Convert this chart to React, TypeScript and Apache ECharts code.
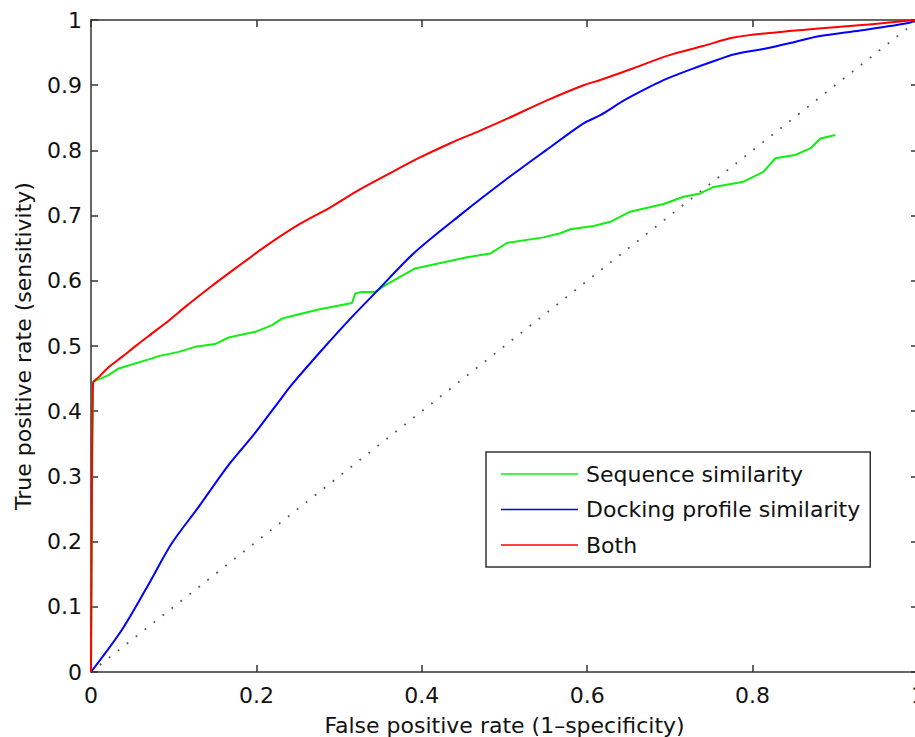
import React, { useEffect, useRef } from "react";
import * as echarts from "echarts";

const seriesNames = ["Sequence similarity", "Docking profile similarity", "Both"];

const seqFpr = [0, 0.001, 0.0024, 0.0213, 0.0334, 0.0738, 0.0817, 0.106, 0.126, 0.15, 0.1664, 0.1987, 0.219, 0.231, 0.243, 0.275, 0.3156, 0.3196, 0.3277, 0.3438, 0.356, 0.392, 0.4547, 0.483, 0.503, 0.547, 0.5675, 0.5796, 0.6077, 0.628, 0.652, 0.6924, 0.7166, 0.7367, 0.753, 0.789, 0.813, 0.8275, 0.8516, 0.8698, 0.882, 0.9];
const seqTpr = [0, 0.25, 0.445, 0.4553, 0.4656, 0.481, 0.4845, 0.491, 0.4987, 0.503, 0.513, 0.5217, 0.532, 0.542, 0.546, 0.556, 0.566, 0.5806, 0.583, 0.583, 0.5934, 0.619, 0.636, 0.642, 0.658, 0.6666, 0.673, 0.679, 0.684, 0.6905, 0.706, 0.7177, 0.729, 0.734, 0.744, 0.752, 0.767, 0.788, 0.793, 0.803, 0.8183, 0.8235];

const dockFpr = [0, 0.037, 0.069, 0.0975, 0.13, 0.166, 0.198, 0.2285, 0.243, 0.28, 0.3156, 0.3478, 0.39, 0.4486, 0.501, 0.55, 0.5956, 0.6158, 0.645, 0.676, 0.6965, 0.727, 0.757, 0.777, 0.8174, 0.85, 0.88, 0.93, 0.9867, 1];
const dockTpr = [0, 0.064, 0.133, 0.197, 0.253, 0.317, 0.366, 0.417, 0.441, 0.495, 0.5447, 0.5868, 0.642, 0.703, 0.7545, 0.8, 0.8415, 0.854, 0.877, 0.8977, 0.91, 0.925, 0.9386, 0.947, 0.9566, 0.966, 0.975, 0.984, 0.995, 1];

const bothFpr = [0, 0.001, 0.0024, 0.01, 0.02, 0.0375, 0.055, 0.0738, 0.095, 0.114, 0.146, 0.1745, 0.1906, 0.2087, 0.251, 0.29, 0.3236, 0.36, 0.396, 0.4345, 0.47, 0.504, 0.55, 0.5956, 0.6158, 0.656, 0.6965, 0.74, 0.777, 0.82, 0.88, 0.94, 0.987, 1];
const bothTpr = [0, 0.25, 0.4425, 0.453, 0.466, 0.4833, 0.501, 0.5193, 0.54, 0.56, 0.592, 0.619, 0.634, 0.651, 0.686, 0.713, 0.739, 0.764, 0.788, 0.811, 0.83, 0.849, 0.876, 0.9, 0.908, 0.926, 0.945, 0.96, 0.973, 0.98, 0.987, 0.993, 0.999, 1];

const chanceFpr = [0, 1];
const chanceTpr = [0, 1];

const zip = (xs: number[], ys: number[]) => xs.map((x, i) => [x, ys[i]]);

const FONT = "DejaVu Sans";
const AXIS_COLOR = "#333";

export default function App() {
  const ref = useRef<HTMLDivElement>(null);

  useEffect(() => {
    document.body.style.margin = "0";
    if (!ref.current) return;
    const chart = echarts.init(ref.current, null, { renderer: "svg" });

    const axisLine = { show: true, onZero: false, lineStyle: { color: AXIS_COLOR, width: 1.5 } };
    const axisTick = { show: true, inside: true, length: 7, lineStyle: { color: AXIS_COLOR, width: 1.5 } };
    const labelStyle = { fontFamily: FONT, fontSize: 22, color: "#111" };
    const lineIcon = "path://M0,0H77V1.4H0Z";

    const option: any = {
      animation: false,
      backgroundColor: "#fff",
      grid: { left: 91, top: 20, width: 827, height: 652, containLabel: false, outerBoundsMode: "none" },
      legend: {
        data: seriesNames.map((name) => ({ name, icon: lineIcon })),
        orient: "vertical",
        left: 486,
        top: 452,
        padding: [11, 10, 11, 15],
        itemWidth: 77,
        itemHeight: 22,
        itemGap: 13.5,
        borderColor: AXIS_COLOR,
        borderWidth: 1.5,
        borderRadius: 0,
        backgroundColor: "#fff",
        textStyle: { ...labelStyle, padding: [0, 0, 0, 3] },
        selectedMode: false,
      },
      xAxis: [
        {
          type: "value",
          position: "bottom",
          min: 0,
          max: 1,
          interval: 0.2,
          axisLine,
          axisTick,
          splitLine: { show: false },
          axisLabel: { ...labelStyle, margin: 12 },
          name: "False positive rate (1\u2013specificity)",
          nameLocation: "middle",
          nameGap: 42,
          nameTextStyle: labelStyle,
        },
        {
          type: "value",
          position: "top",
          min: 0,
          max: 1,
          interval: 0.2,
          axisLine,
          axisTick,
          splitLine: { show: false },
          axisLabel: { show: false },
        },
      ],
      yAxis: [
        {
          type: "value",
          position: "left",
          min: 0,
          max: 1,
          interval: 0.1,
          axisLine,
          axisTick,
          splitLine: { show: false },
          axisLabel: { ...labelStyle, margin: 9 },
          name: "True positive rate (sensitivity)",
          nameLocation: "middle",
          nameGap: 57,
          nameTextStyle: labelStyle,
        },
        {
          type: "value",
          position: "right",
          min: 0,
          max: 1,
          interval: 0.1,
          axisLine,
          axisTick,
          splitLine: { show: false },
          axisLabel: { show: false },
        },
      ],
      series: [
        {
          type: "line",
          name: "chance",
          data: zip(chanceFpr, chanceTpr),
          symbol: "none",
          silent: true,
          lineStyle: { color: "#555", width: 1.8, type: [1.8, 9.6] },
          z: 1,
        },
        {
          type: "line",
          name: seriesNames[0],
          data: zip(seqFpr, seqTpr),
          symbol: "none",
          lineStyle: { color: "#11ee11", width: 2 },
          itemStyle: { color: "#11ee11" },
          z: 2,
        },
        {
          type: "line",
          name: seriesNames[1],
          data: zip(dockFpr, dockTpr),
          symbol: "none",
          smooth: 0.3,
          lineStyle: { color: "#0000ff", width: 2 },
          itemStyle: { color: "#0000ff" },
          z: 3,
        },
        {
          type: "line",
          name: seriesNames[2],
          data: zip(bothFpr, bothTpr),
          symbol: "none",
          smooth: 0.3,
          lineStyle: { color: "#ff0000", width: 2 },
          itemStyle: { color: "#ff0000" },
          z: 4,
        },
      ],
    };

    chart.setOption(option);
    return () => chart.dispose();
  }, []);

  return (
    <div
      ref={ref}
      style={{ position: "absolute", left: 0, top: 0, width: 915, height: 737 }}
    />
  );
}
